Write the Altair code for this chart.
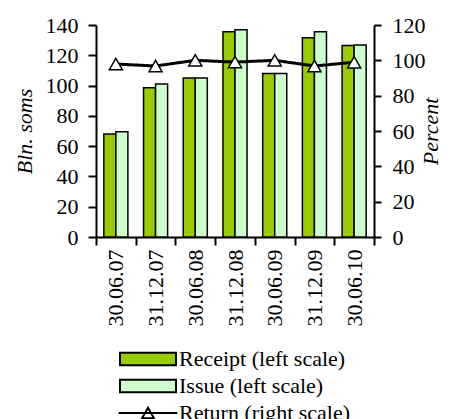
import altair as alt
import pandas as pd

dates = ["30.06.07", "31.12.07", "30.06.08", "31.12.08", "30.06.09", "31.12.09", "30.06.10"]
receipt = [68, 98.5, 105, 135.5, 108, 131.5, 126.5]
issue = [69.5, 101, 105, 136.8, 108, 135.5, 126.8]
ret = [97.9, 96.8, 100, 99, 100, 96.8, 98.9]
left_ticks = [0, 20, 40, 60, 80, 100, 120, 140]
right_ticks = [0, 20, 40, 60, 80, 100, 120]
s_receipt = "Receipt (left scale)"
s_issue = "Issue (left scale)"
s_return = "Return (right scale)"

bars_df = pd.DataFrame(
    [{"date": d, "series": s_receipt, "value": v} for d, v in zip(dates, receipt)]
    + [{"date": d, "series": s_issue, "value": v} for d, v in zip(dates, issue)]
)
line_df = pd.DataFrame({"date": dates, "value": ret, "series": [s_return] * len(dates)})

FONT = "Liberation Serif"
FS = 22

xenc = alt.X(
    "date:N", sort=dates, title=None,
    scale=alt.Scale(paddingInner=0, paddingOuter=0),
    axis=alt.Axis(labelAngle=270, tickBand="extent", tickSize=8, labelPadding=4,
                  domainColor="black", domainWidth=2, tickColor="black", tickWidth=2,
                  labelColor="black", labelFont=FONT, labelFontSize=FS, grid=False),
)

rect_path = "M-4,-0.9H4V0.9H-4Z"
line_path = "M-4.2,0H4.2M0,-0.75L0.85,0.75H-0.85Z"

right_axis = alt.Axis(orient="right", values=right_ticks, title="Percent", titleFont=FONT,
                      titleFontSize=FS, titleFontStyle="italic", titleFontWeight="normal",
                      titleColor="black", titleAngle=270, titlePadding=17, tickSize=7, labelPadding=11,
                      domainColor="black", domainWidth=2, tickColor="black", tickWidth=2,
                      labelColor="black", labelFont=FONT, labelFontSize=FS, grid=False)

bars = alt.Chart(bars_df).mark_bar(stroke="black", strokeWidth=1.5).encode(
    x=xenc,
    xOffset=alt.XOffset("series:N", sort=[s_receipt, s_issue],
                        scale=alt.Scale(domain=[s_receipt, s_issue], paddingInner=0, paddingOuter=0.65)),
    y=alt.Y("value:Q", scale=alt.Scale(domain=[0, 140], nice=False),
            axis=alt.Axis(values=left_ticks, title="Bln. soms", titleFont=FONT, titleFontSize=FS,
                          titleFontStyle="italic", titleFontWeight="normal", titleColor="black",
                          titlePadding=9, tickSize=8, labelPadding=10,
                          domainColor="black", domainWidth=2, tickColor="black", tickWidth=2,
                          labelColor="black", labelFont=FONT, labelFontSize=FS, grid=False)),
    fill=alt.Fill("series:N", scale=alt.Scale(domain=[s_receipt, s_issue], range=["#99cc00", "#ccffcc"]),
                  legend=alt.Legend(title=None, orient="none", legendX=41, legendY=323, padding=0,
                                    symbolType=rect_path, symbolSize=196, symbolStrokeColor="black",
                                    symbolStrokeWidth=2, labelFont=FONT, labelFontSize=FS,
                                    labelColor="black", labelOffset=20, labelLimit=400, rowPadding=5)),
)

line = alt.Chart(line_df).mark_line(color="black", strokeWidth=3).encode(
    x=alt.X("date:N", sort=dates),
    y=alt.Y("value:Q", scale=alt.Scale(domain=[0, 120], nice=False), axis=right_axis),
    strokeDash=alt.StrokeDash("series:N", scale=alt.Scale(domain=[s_return], range=[[1, 0]]),
                              legend=alt.Legend(title=None, orient="none", legendX=41, legendY=377, padding=0,
                                                symbolType=line_path, symbolSize=196,
                                                symbolStrokeColor="black", symbolFillColor="white",
                                                symbolStrokeWidth=2, labelFont=FONT, labelFontSize=FS,
                                                labelColor="black", labelOffset=20, labelLimit=400)),
)
points = alt.Chart(line_df).mark_point(shape="triangle-up", filled=True, fill="white",
                                       stroke="black", strokeWidth=1.5, size=170, opacity=1).encode(
    x=alt.X("date:N", sort=dates),
    y=alt.Y("value:Q", scale=alt.Scale(domain=[0, 120], nice=False), axis=right_axis),
)

right = alt.layer(line, points)
chart = alt.layer(bars, right).resolve_scale(y="independent").properties(
    width=278, height=212,
    autosize=alt.AutoSizeParams(type="none"),
    padding={"left": 88, "top": 17, "right": 70, "bottom": 182},
).configure_view(stroke=None)

chart.save("out.html", embed_options={"renderer": "svg", "actions": False})
